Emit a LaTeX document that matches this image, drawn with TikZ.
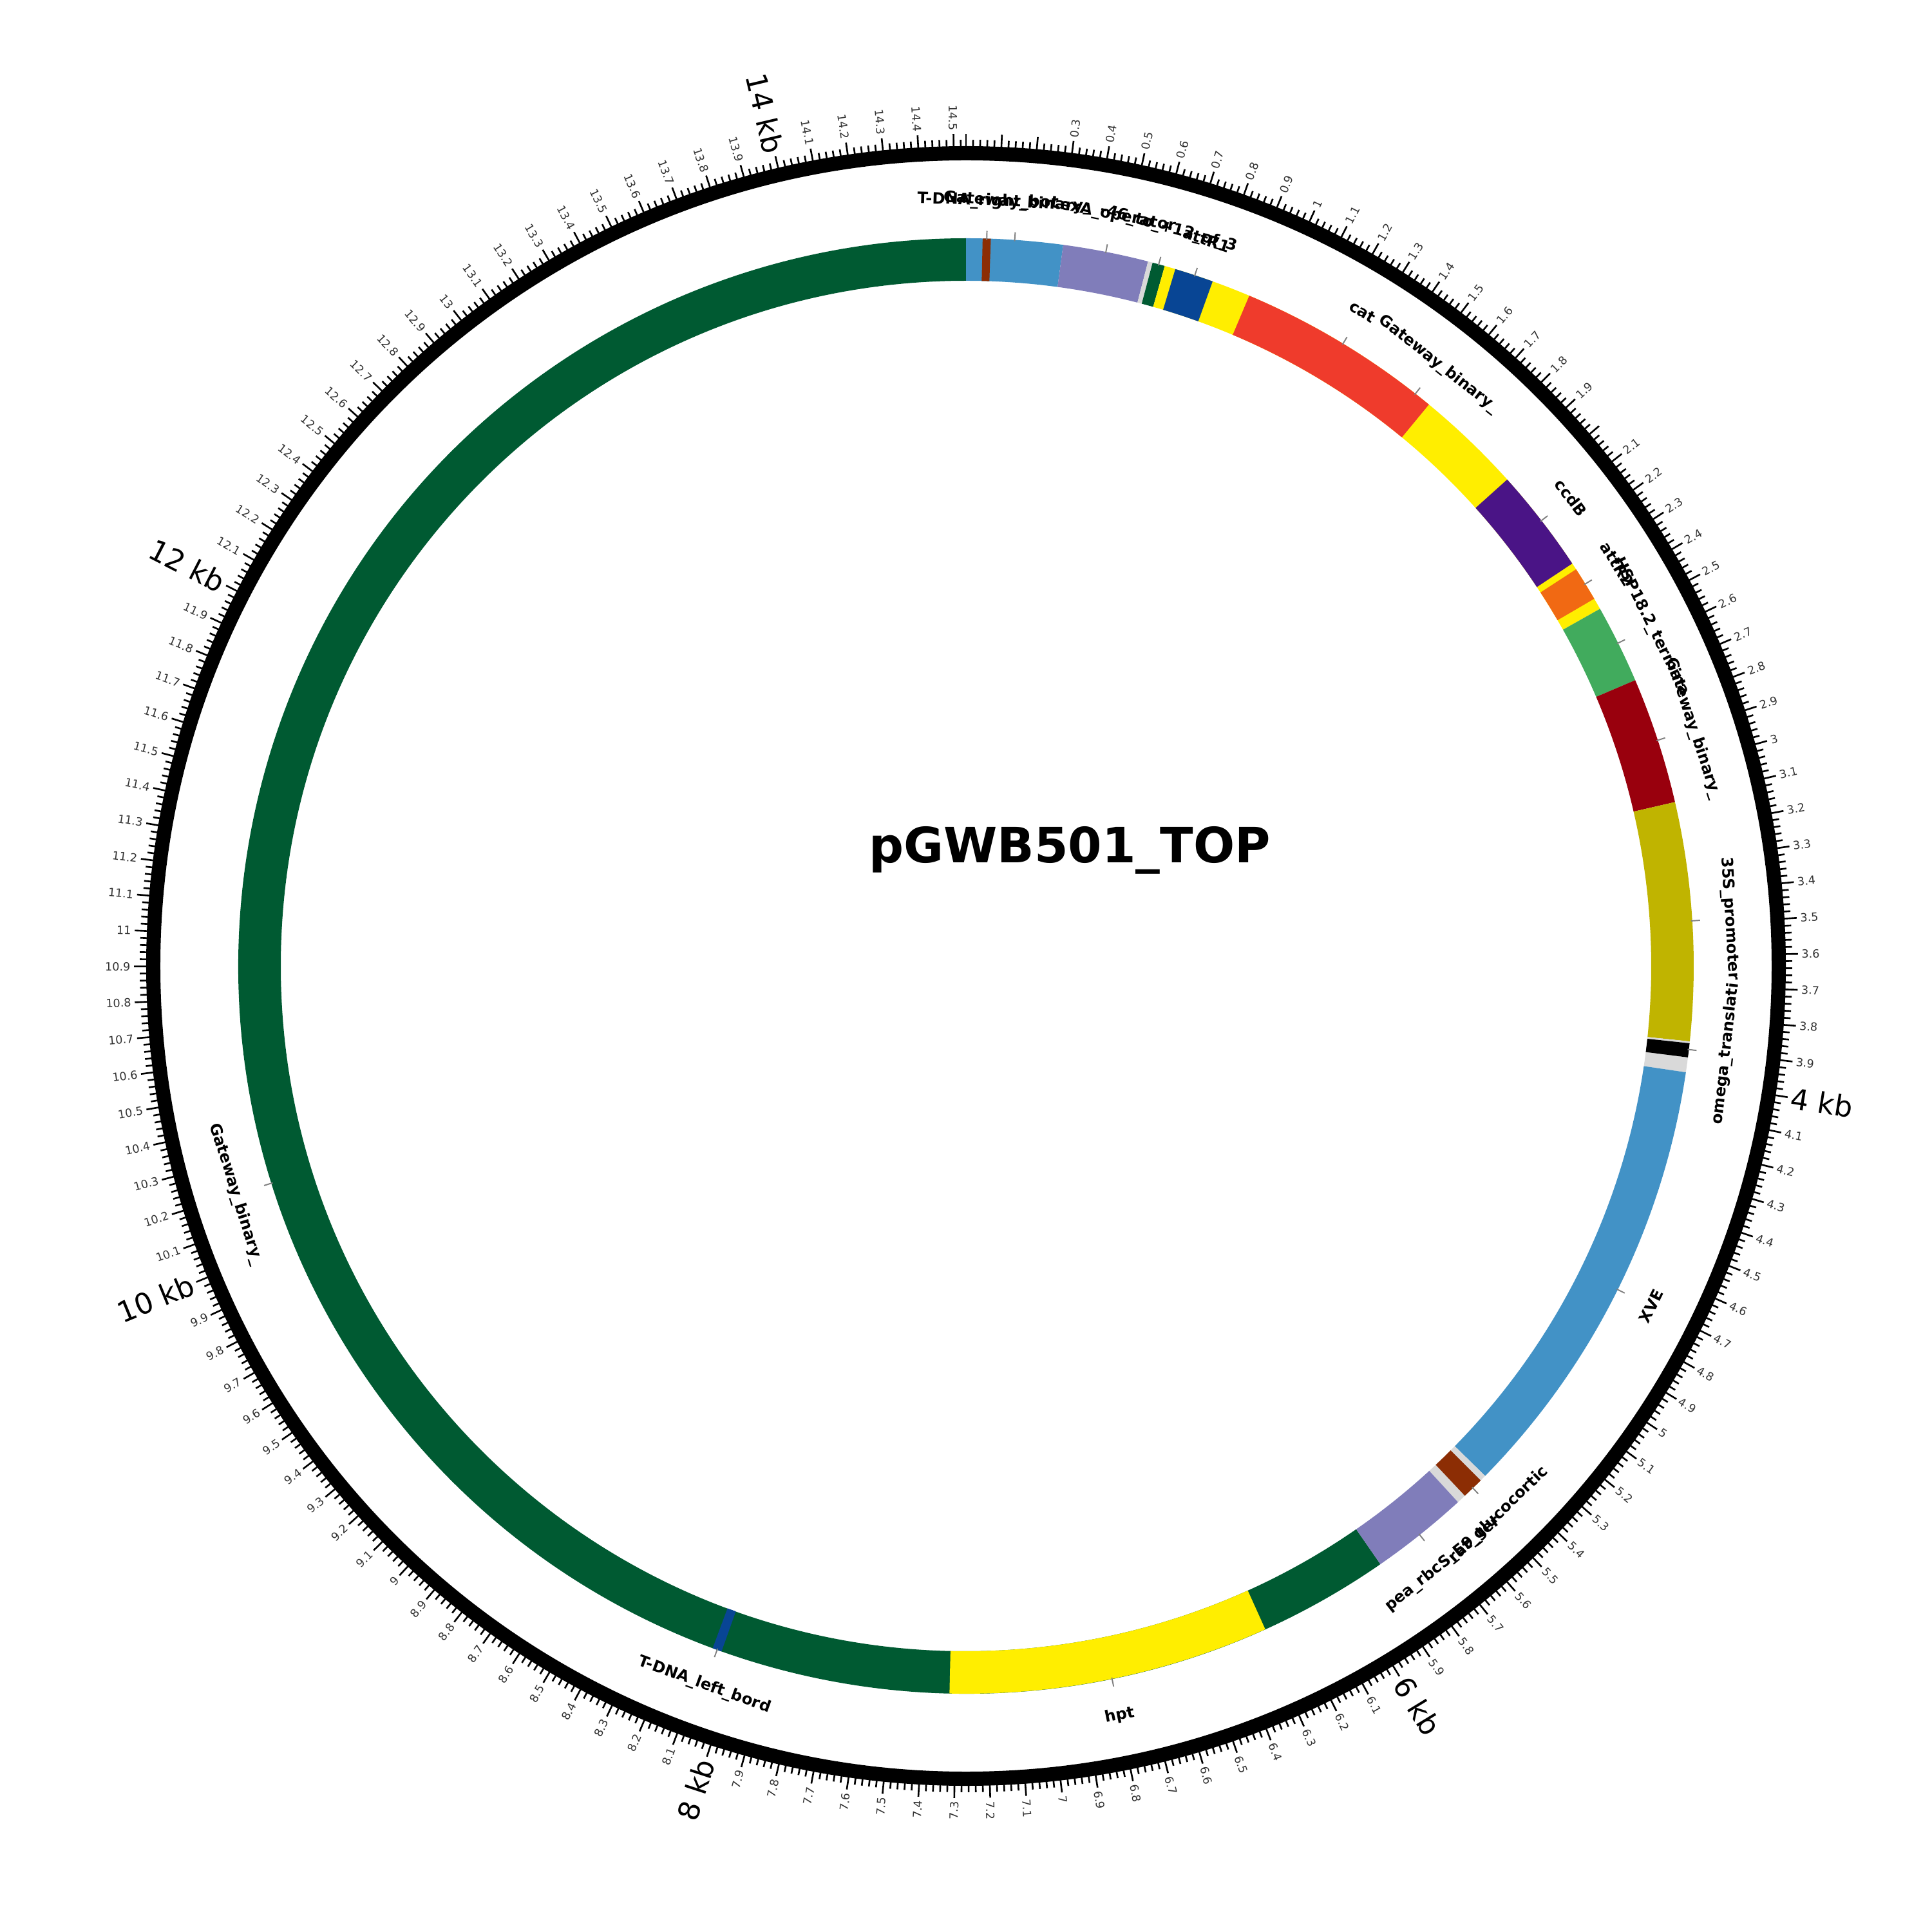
\documentclass[tikz,border=0pt]{standalone}
\usepackage{fontspec}
\setmainfont{DejaVu Sans}
\usetikzlibrary{calc}
\definecolor{bbGreen}{HTML}{005A32}
\definecolor{gwBlue}{HTML}{4292C6}
\definecolor{bdBrown}{HTML}{8C2D04}
\definecolor{opLavender}{HTML}{807DBA}
\definecolor{gapGray}{HTML}{D9D9D9}
\definecolor{gwYellow}{HTML}{FFEE00}
\definecolor{attNavy}{HTML}{084594}
\definecolor{catRed}{HTML}{EF3B2C}
\definecolor{ccdPurple}{HTML}{4A1486}
\definecolor{attOrange}{HTML}{F16913}
\definecolor{hspGreen}{HTML}{41AB5D}
\definecolor{gwDarkRed}{HTML}{99000D}
\definecolor{proOlive}{HTML}{C0B400}
\definecolor{leaderGray}{HTML}{808080}
\definecolor{textTick}{HTML}{333333}
\tikzset{
  featlbl/.style={font=\bfseries\fontsize{6.9}{8}\selectfont, inner sep=0pt},
  leader/.style={draw=leaderGray, line width=0.55pt},
  tickmark/.style={draw=black, line width=0.75pt},
  kblbl/.style={font=\fontsize{5}{6}\selectfont, text=textTick, inner sep=0pt},
  kbmajor/.style={font=\fontsize{12.7}{14}\selectfont, inner sep=0pt},
  titlelbl/.style={font=\bfseries\fontsize{21.5}{25}\selectfont, inner sep=0pt},
}
% degrees per kb (14.535 kb in total), ring radii in cm
\def\degkb{24.7678}
\def\rout{11.30}
\def\rin{10.64}
% annular piece of the feature ring: start kb, end kb, colour
\newcommand{\featarc}[3]{%
  \fill[#3] ({90-#1*\degkb}:\rout) arc[start angle={90-#1*\degkb}, end angle={90-#2*\degkb}, radius=\rout]
    -- ({90-#2*\degkb}:\rin) arc[start angle={90-#2*\degkb}, end angle={90-#1*\degkb}, radius=\rin] -- cycle;}
% leader and label of a feature: node name, middle kb, text
\newcommand{\featlabel}[3]{%
  \pgfmathsetmacro\th{#2*\degkb}
  \pgfmathsetmacro\rot{\th<=90 ? -\th : (\th<270 ? 180-\th : 360-\th)}
  \draw[leader] ({90-\th}:11.28) -- ({90-\th}:11.42);
  \node[featlbl, rotate=\rot] (#1) at ({90-\th}:11.88) {#3};}

\begin{document}
\begin{tikzpicture}
  \useasboundingbox (-15,-15) rectangle (15,15);

  % === Outer ring and ticks ===
  \draw[line width=0.22cm] (0,0) circle[radius=12.62];
  \foreach \i in {0,...,726}{
    \pgfmathsetmacro\a{90-\i*0.495356}
    \pgfmathsetmacro\tl{mod(\i,5)==0 ? 12.92 : 12.83}
    \draw[tickmark] (\a:12.70) -- (\a:\tl);
  }

  % === Tick labels (every 0.1 kb) ===
  \foreach \k in {3,...,145}{
    \pgfmathtruncatemacro\skip{mod(\k,20)==0 ? 1 : 0}
    \ifnum\skip=0
      \pgfmathsetmacro\th{\k*2.47678}
      \pgfmathtruncatemacro\ip{\k/10}
      \pgfmathtruncatemacro\fp{\k-10*\ip}
      \ifdim\th pt<180pt
        \node[kblbl, rotate={90-\th}, anchor=west] (t\k) at ({90-\th}:12.97) {\ifnum\fp=0 \ip\else\ip.\fp\fi};
      \else
        \node[kblbl, rotate={270-\th}, anchor=east] (t\k) at ({90-\th}:12.97) {\ifnum\fp=0 \ip\else\ip.\fp\fi};
      \fi
    \fi
  }
  \foreach \m in {4,6,...,14}{
    \pgfmathsetmacro\th{\m*\degkb}
    \ifdim\th pt<180pt
      \node[kbmajor, rotate={90-\th}, anchor=west] (kb\m) at ({90-\th}:12.97) {\m\ kb};
    \else
      \node[kbmajor, rotate={270-\th}, anchor=east] (kb\m) at ({90-\th}:12.97) {\m\ kb};
    \fi
  }

  % === Features ===
  \featarc{5.866}{14.535}{bbGreen}
  \featarc{0}{0.31}{gwBlue}
  \featarc{0.053}{0.079}{bdBrown}
  \featarc{0.31}{0.585}{opLavender}
  \featarc{0.585}{0.60}{gapGray}
  \featarc{0.60}{0.64}{bbGreen}
  \featarc{0.64}{2.447}{gwYellow}
  \featarc{0.675}{0.80}{attNavy}
  \featarc{0.925}{1.595}{catRed}
  \featarc{1.94}{2.278}{ccdPurple}
  \featarc{2.30}{2.41}{attOrange}
  \featarc{2.447}{2.70}{hspGreen}
  \featarc{2.70}{3.108}{gwDarkRed}
  \featarc{3.108}{3.874}{proOlive}
  \featarc{3.874}{3.973}{gapGray}
  \featarc{3.88}{3.925}{black}
  \featarc{3.973}{5.43}{gwBlue}
  \featarc{5.43}{5.55}{gapGray}
  \featarc{5.45}{5.52}{bdBrown}
  \featarc{5.55}{5.866}{opLavender}
  \featarc{6.287}{7.32}{gwYellow}
  \featarc{8.06}{8.09}{attNavy}

  % === Feature labels ===
  \featlabel{rb}{0.066}{T-DNA\_right\_bor}
  \featlabel{gw1}{0.155}{Gateway\_binary\_}
  \featlabel{lexa}{0.4475}{LexA\_operator}
  \featlabel{mini}{0.62}{-46\_to\_+12\_of\_3}
  \featlabel{attr1}{0.74}{attR1}
  \featlabel{cat}{1.26}{cat}
  \featlabel{gw2}{1.54}{Gateway\_binary\_}
  \featlabel{ccdb}{2.11}{ccdB}
  \featlabel{attr2}{2.355}{attR2}
  \featlabel{hsp}{2.57}{HSP18.2\_termina}
  \featlabel{gw3}{2.904}{Gateway\_binary\_}
  \featlabel{p35s}{3.49}{35S\_promoter}
  \featlabel{omega}{3.90}{omega\_translati}
  \featlabel{xve}{4.70}{XVE}
  \featlabel{gr}{5.485}{rat\_glucocortic}
  \featlabel{rbcs}{5.71}{pea\_rbcS\_E9\_ter}
  \featlabel{hpt}{6.80}{hpt}
  \featlabel{lb}{8.075}{T-DNA\_left\_bord}
  \featlabel{gw4}{10.20}{Gateway\_binary\_}

  % === Title ===
  \node[titlelbl] (title) at (1.61,1.80) {pGWB501\_TOP};

\end{tikzpicture}
\end{document}
